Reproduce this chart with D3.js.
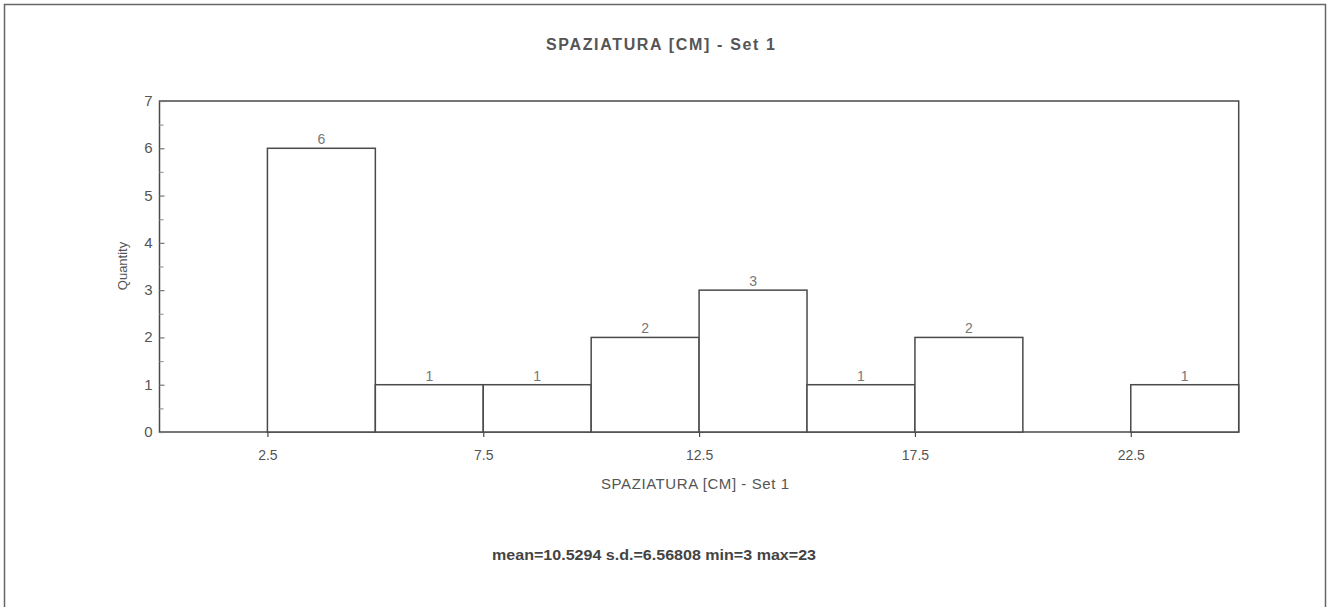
<!DOCTYPE html>
<html>
<head>
<meta charset="utf-8">
<script src="https://cdn.jsdelivr.net/npm/d3@7/dist/d3.min.js"></script>
<style>
  html, body { margin: 0; padding: 0; background: #fff; }
  svg { display: block; font-family: "Liberation Sans", Arial, sans-serif; }
</style>
</head>
<body>
<svg id="chart" width="1330" height="607"></svg>
<script>
// ---- data ----
const binStarts = [2.5, 5, 7.5, 10, 12.5, 15, 17.5, 20, 22.5];
const binWidth = 2.5;
const counts = [6, 1, 1, 2, 3, 1, 2, 0, 1];
const xTickValues = [2.5, 7.5, 12.5, 17.5, 22.5];
const xTickLabels = ["2.5", "7.5", "12.5", "17.5", "22.5"];
const yTickValues = [0, 1, 2, 3, 4, 5, 6, 7];
const yMinorValues = [0.5, 1.5, 2.5, 3.5, 4.5, 5.5, 6.5];
const titleText = "SPAZIATURA [CM] - Set 1";
const xLabelText = "SPAZIATURA [CM] - Set 1";
const yLabelText = "Quantity";
const statsText = "mean=10.5294 s.d.=6.56808 min=3 max=23";

// ---- layout ----
const svg = d3.select("#chart");
const L = 159.5, R = 1238.7, T = 101, B = 432;
const x = d3.scaleLinear().domain([0, 25]).range([L, R]);
const y = d3.scaleLinear().domain([0, 7]).range([B, T]);
const ink = "#4a4a4a";
const txt = "#555";

// outer frame
svg.append("path")
  .attr("d", "M4.5,607 L4.5,4.5 L1325.5,4.5 L1325.5,607")
  .attr("fill", "none").attr("stroke", "#666").attr("stroke-width", 1.5);

// plot box
svg.append("rect")
  .attr("x", L).attr("y", T).attr("width", R - L).attr("height", B - T)
  .attr("fill", "none").attr("stroke", ink).attr("stroke-width", 1.5);

// bars
const bars = binStarts.map((s, i) => ({ s, c: counts[i] })).filter(d => d.c > 0);
svg.append("g").selectAll("rect").data(bars).join("rect")
  .attr("x", d => x(d.s)).attr("width", d => x(d.s + binWidth) - x(d.s))
  .attr("y", d => y(d.c)).attr("height", d => y(0) - y(d.c))
  .attr("fill", "#fff").attr("stroke", ink).attr("stroke-width", 1.5);

// value labels
svg.append("g").selectAll("text").data(bars).join("text")
  .attr("x", d => x(d.s + binWidth / 2)).attr("y", d => y(d.c) - 4)
  .attr("text-anchor", "middle").attr("font-size", 14).attr("fill", "#777")
  .text(d => d.c);

// y axis (ticks inward)
const yAxis = d3.axisRight(y).tickValues(yTickValues).tickSize(5).tickFormat("");
const yg = svg.append("g").attr("transform", `translate(${L},0)`).call(yAxis);
yg.select(".domain").remove();
yg.selectAll("line").attr("stroke", "#777").attr("stroke-width", 1.2);
const yMinor = d3.axisRight(y).tickValues(yMinorValues).tickSize(4).tickFormat("");
const ym = svg.append("g").attr("transform", `translate(${L},0)`).call(yMinor);
ym.select(".domain").remove();
ym.selectAll("line").attr("stroke", "#999").attr("stroke-width", 1.2);

svg.append("g").selectAll("text").data(yTickValues).join("text")
  .attr("x", L - 7).attr("y", d => y(d) + 5)
  .attr("text-anchor", "end").attr("font-size", 15).attr("fill", txt)
  .text(d => d);

// x axis (ticks outward)
const xAxis = d3.axisBottom(x).tickValues(xTickValues).tickSize(5)
  .tickFormat((d, i) => xTickLabels[i]);
const xg = svg.append("g").attr("transform", `translate(0,${B})`).call(xAxis);
xg.select(".domain").remove();
xg.selectAll("line").attr("stroke", ink).attr("stroke-width", 1.2);
xg.selectAll("text").attr("font-size", 14).attr("fill", txt)
  .attr("font-family", "Liberation Sans, Arial, sans-serif").attr("dy", null).attr("y", 28);

// title
svg.append("text").attr("x", 660.5).attr("y", 50).attr("text-anchor", "middle")
  .attr("font-size", 16).attr("font-weight", "bold").attr("fill", "#555")
  .attr("textLength", 229).attr("lengthAdjust", "spacing")
  .text(titleText);

// x label
svg.append("text").attr("x", 695).attr("y", 489).attr("text-anchor", "middle")
  .attr("font-size", 15).attr("fill", txt)
  .attr("textLength", 188).attr("lengthAdjust", "spacing")
  .text(xLabelText);

// y label
svg.append("text").attr("transform", `translate(127,266) rotate(-90)`)
  .attr("text-anchor", "middle").attr("font-size", 13).attr("fill", txt)
  .text(yLabelText);

// stats
svg.append("text").attr("x", 654).attr("y", 560).attr("text-anchor", "middle")
  .attr("font-size", 14).attr("font-weight", "bold").attr("fill", "#444")
  .attr("textLength", 324).attr("lengthAdjust", "spacingAndGlyphs")
  .text(statsText);
</script>
</body>
</html>
